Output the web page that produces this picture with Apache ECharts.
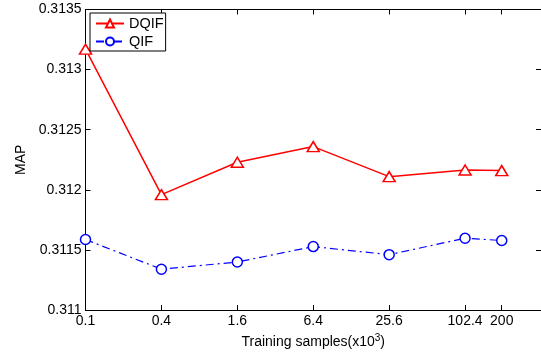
<!DOCTYPE html>
<html><head><meta charset="utf-8">
<script src="https://cdn.jsdelivr.net/npm/echarts@6/dist/echarts.min.js"></script>
<style>html,body{margin:0;padding:0;background:#fff}#c{width:541px;height:354px}</style>
</head><body><div id="c"></div>
<script>
const samples = [0.1, 0.4, 1.6, 6.4, 25.6, 102.4, 200];
const dqif = [0.31317, 0.31196, 0.31223, 0.31236, 0.31211, 0.312165, 0.31216];
const qif = [0.311587, 0.31134, 0.3114, 0.311528, 0.311461, 0.311598, 0.311579];
const xTicks = [0.1, 0.4, 1.6, 6.4, 25.6, 102.4, 200];
const yMin = 0.311, yMax = 0.3135, yStep = 0.0005;

const font = 'Liberation Sans, Arial, Helvetica, sans-serif';
const chart = echarts.init(document.getElementById('c'), null, {renderer: 'canvas'});
const axisLineStyle = {color: '#000', width: 1};
const xBase = {
  type: 'log', logBase: 4, min: 0.1, max: 409.6,
  axisLine: {show: true, onZero: false, lineStyle: axisLineStyle},
  axisTick: {show: true, inside: true, length: 5, customValues: xTicks, lineStyle: {color: '#000'}},
  splitLine: {show: false}, minorTick: {show: false}
};
chart.setOption({
  animation: false,
  grid: {left: 85.5, right: -0.5, top: 9.5, bottom: 36.5, containLabel: false},
  legend: {
    left: 90, top: 13, orient: 'vertical',
    data: ['DQIF', 'QIF'],
    itemWidth: 28, itemHeight: 10, itemGap: 3,
    padding: [3, 2, 2, 5],
    borderColor: '#000', borderWidth: 1, backgroundColor: '#fff',
    textStyle: {fontFamily: font, fontSize: 14.5, color: '#000'}
  },
  xAxis: [
    Object.assign({}, xBase, {
      position: 'bottom',
      axisLabel: {show: true, customValues: xTicks, margin: 4, fontFamily: font, fontSize: 14, color: '#000',
        formatter: v => String(+(+v).toFixed(4))},
      name: 'Training samples(x10{sup|3})', nameLocation: 'middle', nameGap: 20,
      nameTextStyle: {fontFamily: font, fontSize: 14, color: '#000',
        rich: {sup: {fontFamily: font, fontSize: 10, color: '#000', verticalAlign: 'top', padding: [0,0,8,0]}}}
    }),
    Object.assign({}, xBase, {position: 'top', axisLabel: {show: false}})
  ],
  yAxis: [
    {
      type: 'value', min: yMin, max: yMax, interval: yStep, position: 'left',
      axisLine: {show: true, onZero: false, lineStyle: axisLineStyle},
      axisTick: {show: true, inside: true, length: 5, lineStyle: {color: '#000'}},
      splitLine: {show: false},
      axisLabel: {margin: 4, fontFamily: font, fontSize: 14, color: '#000', formatter: v => String(+(+v).toFixed(4))},
      name: 'MAP', nameLocation: 'middle', nameGap: 56, nameRotate: 90,
      nameTextStyle: {fontFamily: font, fontSize: 14, color: '#000'}
    },
    {
      type: 'value', min: yMin, max: yMax, interval: yStep, position: 'right',
      axisLine: {show: true, onZero: false, lineStyle: axisLineStyle},
      axisTick: {show: true, inside: true, length: 5, lineStyle: {color: '#000'}},
      splitLine: {show: false}, axisLabel: {show: false}
    }
  ],
  series: [
    {
      name: 'DQIF', type: 'line', xAxisIndex: 0, yAxisIndex: 0,
      data: samples.map((s, i) => [s, dqif[i]]),
      symbol: 'triangle', symbolSize: [12, 10], showAllSymbol: true,
      itemStyle: {color: '#fff', borderColor: '#ff0000', borderWidth: 1.5},
      lineStyle: {color: '#ff0000', width: 1.5},
      color: '#ff0000'
    },
    {
      name: 'QIF', type: 'line', xAxisIndex: 0, yAxisIndex: 0,
      data: samples.map((s, i) => [s, qif[i]]),
      symbol: 'circle', symbolSize: 10, showAllSymbol: true,
      itemStyle: {color: '#fff', borderColor: '#0000ff', borderWidth: 1.5},
      lineStyle: {color: '#0000ff', width: 1.2, type: [8, 4, 2, 4]},
      color: '#0000ff'
    }
  ]
});
</script></body></html>
